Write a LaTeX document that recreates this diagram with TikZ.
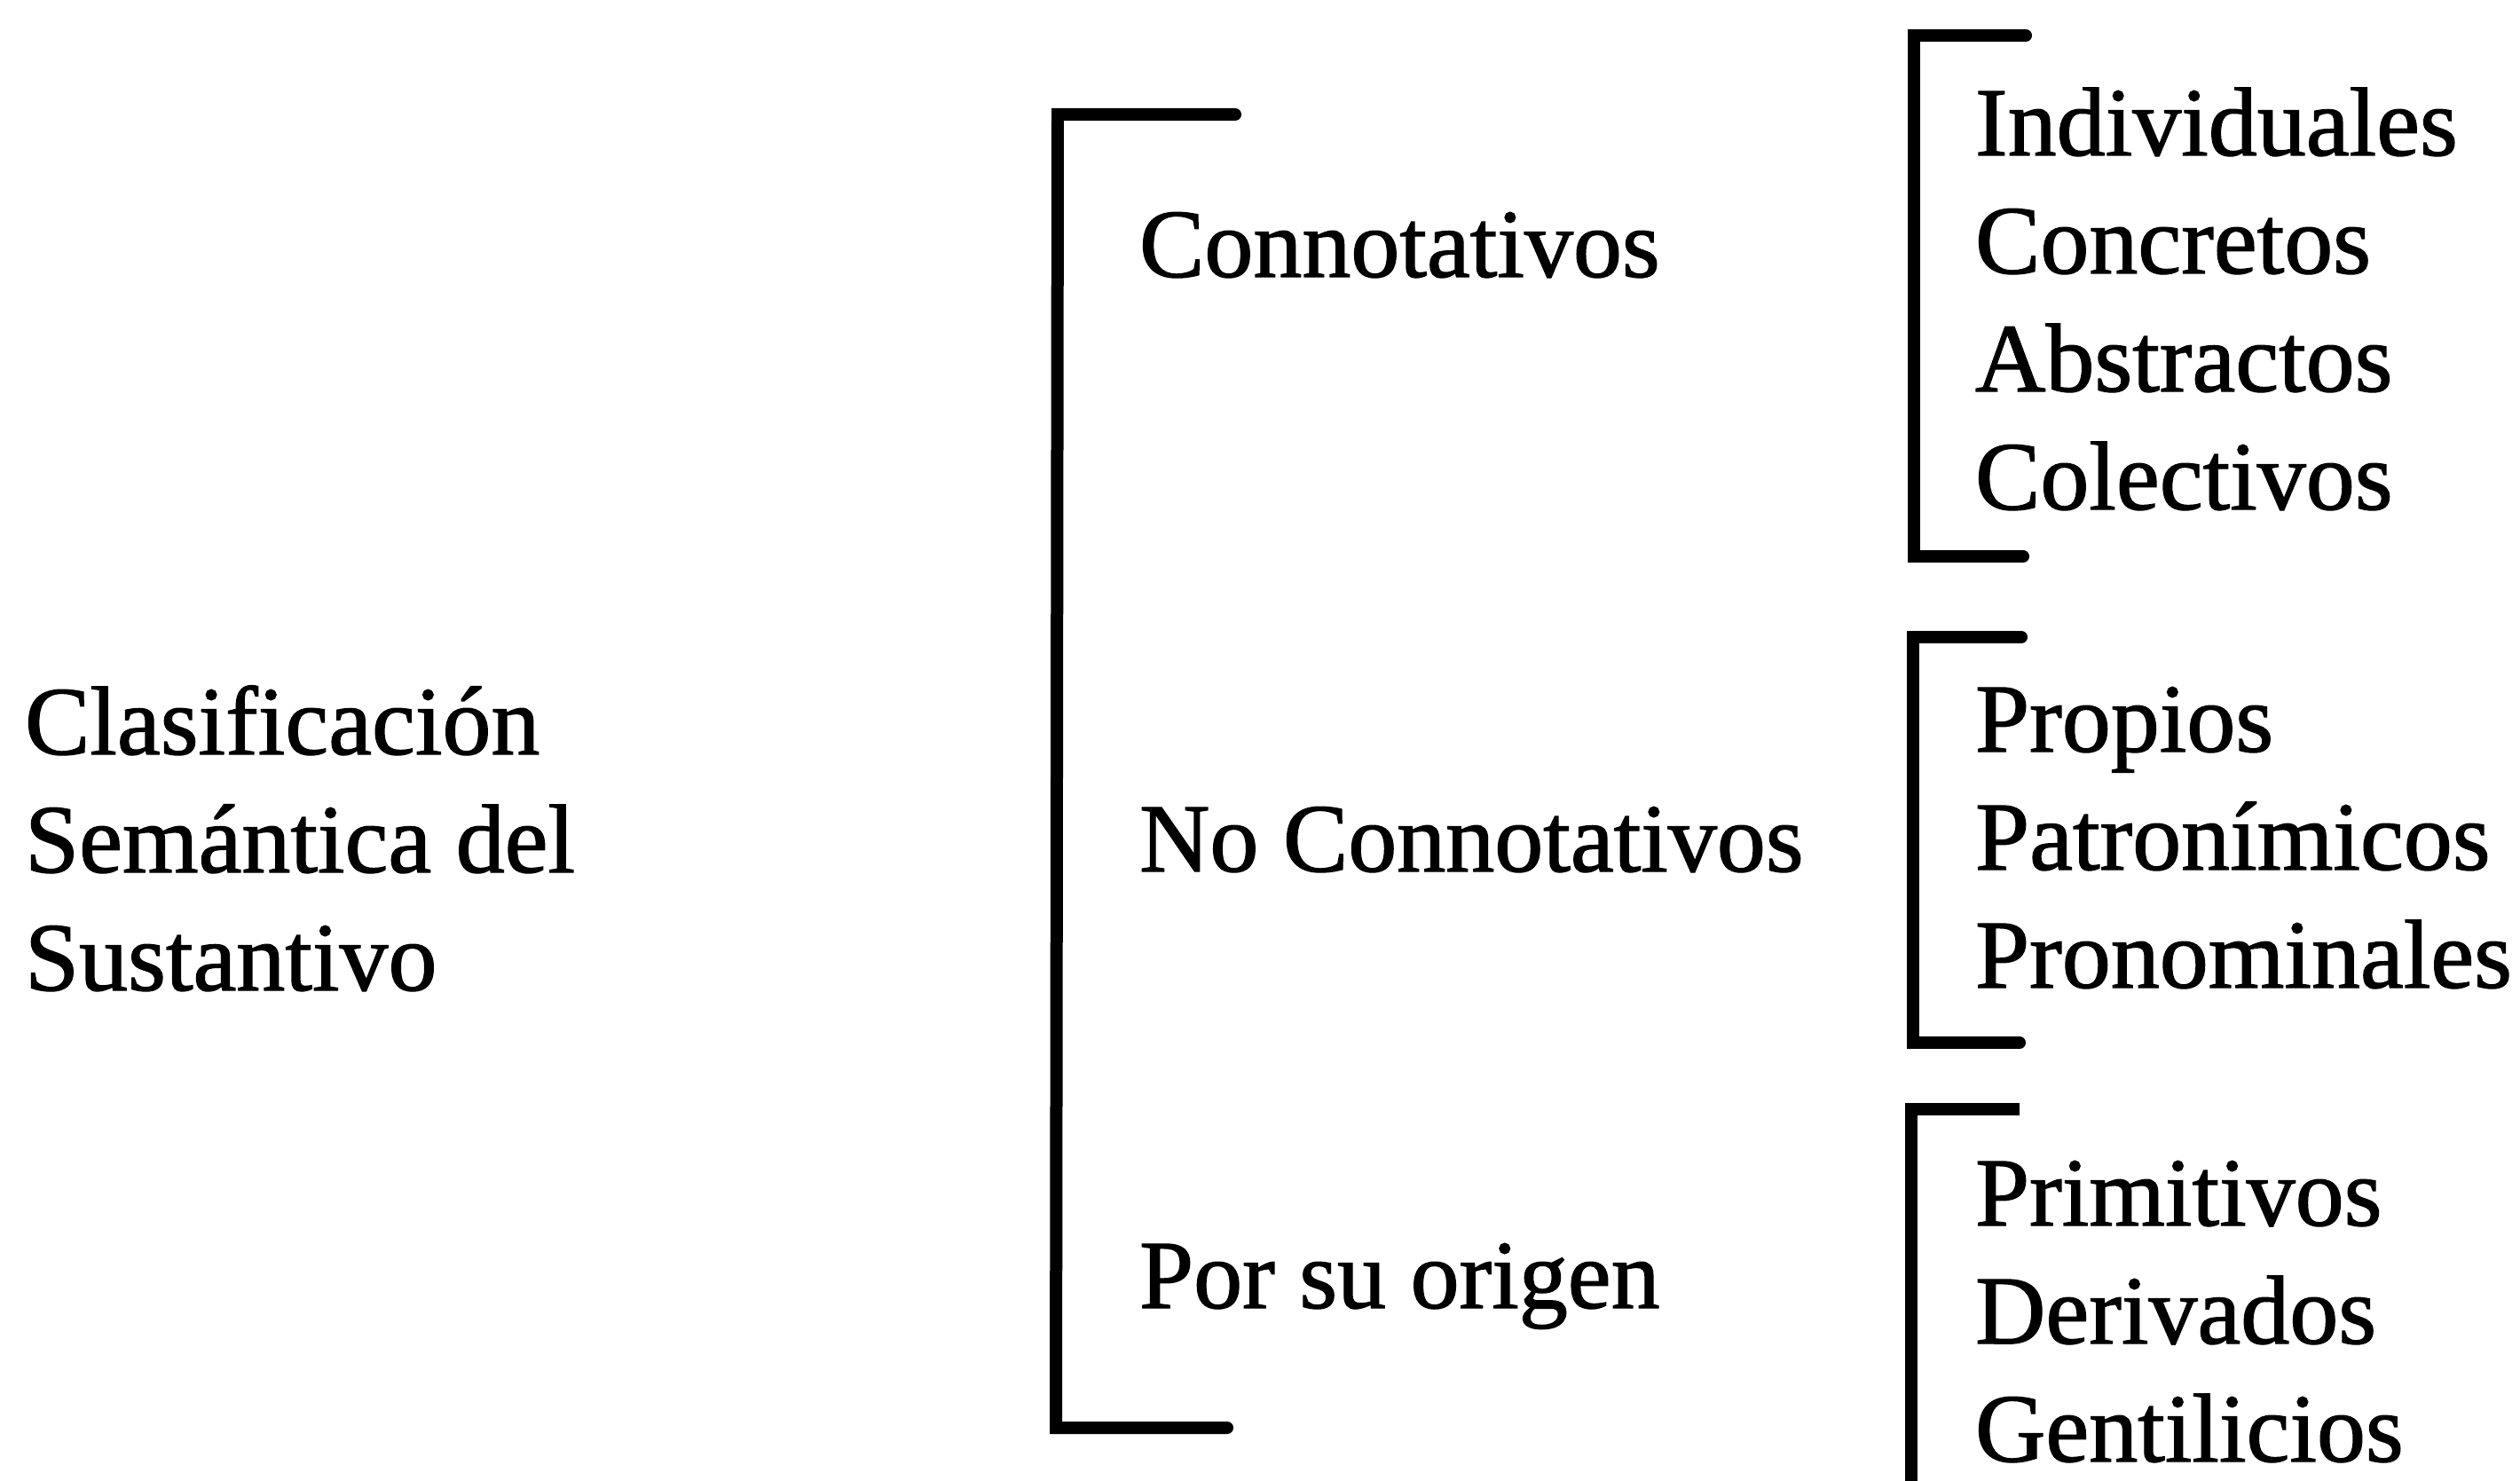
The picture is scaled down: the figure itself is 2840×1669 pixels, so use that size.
\documentclass[tikz,border=0pt]{standalone}
\usepackage{fontspec}
\setmainfont{Liberation Serif}
\newfontfamily\scanfont{Liberation Serif}[FakeBold=1.2]
\begin{document}
\begin{tikzpicture}[x=0.25pt,y=-0.25pt,
  lbl/.style={anchor=base west,inner sep=0pt,outer sep=0pt,font=\scanfont\fontsize{27.5}{33}\selectfont},
  brk/.style={line width=3.5pt,line cap=round,line join=miter}]
\useasboundingbox[fill=white] (0,0) rectangle (2840,1669);
% left title
\node[lbl] (t1) at (28,850) {Clasificación};
\node[lbl] (t2) at (28,983) {Semántica del};
\node[lbl] (t3) at (28,1116) {Sustantivo};
% big bracket
\coordinate (b0a) at (1392,129);
\coordinate (b0b) at (1192,129);
\coordinate (b0c) at (1190,1609);
\coordinate (b0d) at (1383,1609);
\draw[brk] (b0a) -- (b0b) -- (b0c) -- (b0d);
% middle labels
\node[lbl] (m1) at (1284,312) {Connotativos};
\node[lbl] (m2) at (1284,982) {No Connotativos};
\node[lbl] (m3) at (1284,1474) {Por su origen};
% bracket 1
\coordinate (b1a) at (2283,40);
\coordinate (b1b) at (2157,40);
\coordinate (b1c) at (2157,627);
\coordinate (b1d) at (2280,627);
\draw[brk] (b1a) -- (b1b) -- (b1c) -- (b1d);
% bracket 2
\coordinate (b2a) at (2278,718);
\coordinate (b2b) at (2156,718);
\coordinate (b2c) at (2156,1175);
\coordinate (b2d) at (2276,1175);
\draw[brk] (b2a) -- (b2b) -- (b2c) -- (b2d);
% bracket 3
\coordinate (b3a) at (2276,1250);
\coordinate (b3b) at (2154,1250);
\coordinate (b3c) at (2154,1669);
\draw[brk,line cap=butt] (b3a) -- (b3b) -- (b3c);
% right labels
\node[lbl] (r1) at (2226,175) {Individuales};
\node[lbl] (r2) at (2226,308) {Concretos};
\node[lbl] (r3) at (2226,441) {Abstractos};
\node[lbl] (r4) at (2226,574) {Colectivos};
\node[lbl] (r5) at (2226,847) {Propios};
\node[lbl] (r6) at (2226,980) {Patronímicos};
\node[lbl] (r7) at (2226,1113) {Pronominales};
\node[lbl] (r8) at (2226,1381) {Primitivos};
\node[lbl] (r9) at (2226,1514) {Derivados};
\node[lbl] (r10) at (2226,1647) {Gentilicios};
\end{tikzpicture}
\end{document}
